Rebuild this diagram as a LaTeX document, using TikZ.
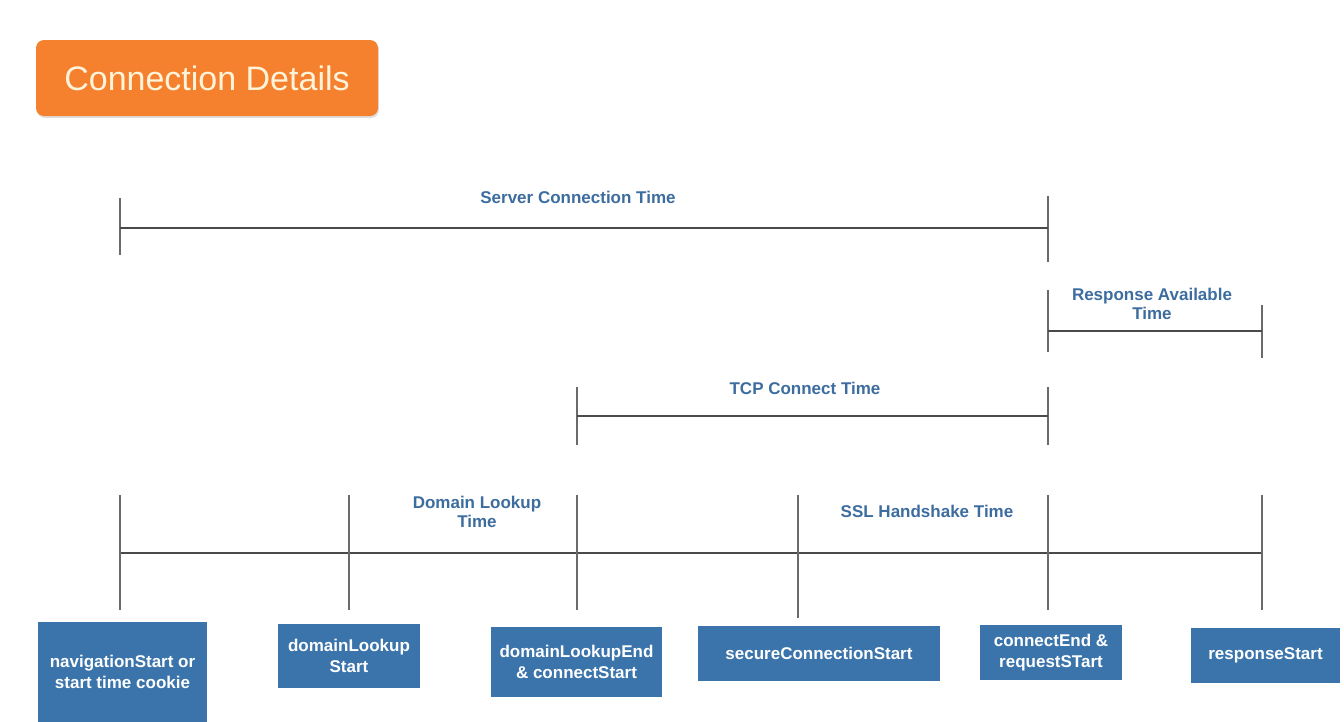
\documentclass[tikz,border=0pt]{standalone}
\usepackage{fontspec}
\setmainfont{Liberation Sans}
\usetikzlibrary{shadows}
\definecolor{hdrorange}{HTML}{F5812F}
\definecolor{hdrtext}{HTML}{FFF3D9}
\definecolor{evtblue}{HTML}{3A74AB}
\definecolor{spanblue}{HTML}{3D6D9F}
\definecolor{stopgray}{HTML}{6A6A6A}
\definecolor{spangray}{HTML}{4A4A4A}
\begin{document}
\begin{tikzpicture}[x=1pt,y=-1pt,line cap=butt,
  every node/.style={font=\bfseries\fontsize{17}{19}\selectfont},
  stopline/.style={draw=stopgray,line width=2pt},
  spanline/.style={draw=spangray,line width=2pt},
  spanlabel/.style={text=spanblue,align=center,inner sep=0pt},
  event/.style={fill=evtblue,text=white,align=center,inner sep=0pt,font=\bfseries\fontsize{17}{21}\selectfont}]
  \useasboundingbox[fill=white] (0,0) rectangle (1344,721);
  % Header tab
  \node[fill=hdrorange,rounded corners=8pt,minimum width=342pt,minimum height=76pt,text=hdrtext,
        drop shadow={opacity=0.25,shadow xshift=1pt,shadow yshift=-2pt},
        font=\fontsize{34}{40}\selectfont] (title) at (207,78) {Connection Details};

  % Server connection time
  \coordinate (S1) at (120,228);
  \coordinate (S2) at (1048,228);
  \draw[stopline] (120,198)--(120,255) (1048,196)--(1048,262);
  \draw[spanline] (S1)--(S2);
  \node[spanlabel] (serverlbl) at (578,197) {Server Connection Time};

  % Response available time
  \coordinate (R1) at (1048,331);
  \coordinate (R2) at (1262,331);
  \draw[stopline] (1048,290)--(1048,352) (1262,305)--(1262,358);
  \draw[spanline] (R1)--(R2);
  \node[spanlabel] (resplbl) at (1152,304) {Response Available\\Time};

  % TCP connect time
  \coordinate (T1) at (577,416);
  \coordinate (T2) at (1048,416);
  \draw[stopline] (577,387)--(577,445) (1048,387)--(1048,445);
  \draw[spanline] (T1)--(T2);
  \node[spanlabel] (tcplbl) at (805,388) {TCP Connect Time};

  % Main timeline with event markers
  \coordinate (L1) at (120,553);
  \coordinate (L2) at (1262,553);
  \draw[spanline] (L1)--(L2);
  \draw[stopline] (120,495)--(120,610) (349,495)--(349,610) (577,495)--(577,610)
                  (798,495)--(798,618) (1048,495)--(1048,610) (1262,495)--(1262,610);
  \node[spanlabel] (dnslbl) at (477,512) {Domain Lookup\\Time};
  \node[spanlabel] (ssllbl) at (927,511) {SSL Handshake Time};

  % Event boxes
  \node[event,minimum width=169pt,minimum height=100pt] (navstart) at (122.5,672) {navigationStart or\\start time cookie};
  \node[event,minimum width=142pt,minimum height=64pt] (dnsstart) at (349,656) {domainLookup\\Start};
  \node[event,minimum width=171pt,minimum height=70pt] (dnsend) at (576.5,662) {domainLookupEnd\\\& connectStart};
  \node[event,minimum width=242pt,minimum height=55pt] (sslstart) at (819,653.5) {secureConnectionStart};
  \node[event,minimum width=142pt,minimum height=55pt] (connend) at (1051,652.5) {connectEnd \&\\requestSTart};
  \node[event,minimum width=149pt,minimum height=55pt] (respstart) at (1265.5,655.5) {responseStart};
\end{tikzpicture}
\end{document}
